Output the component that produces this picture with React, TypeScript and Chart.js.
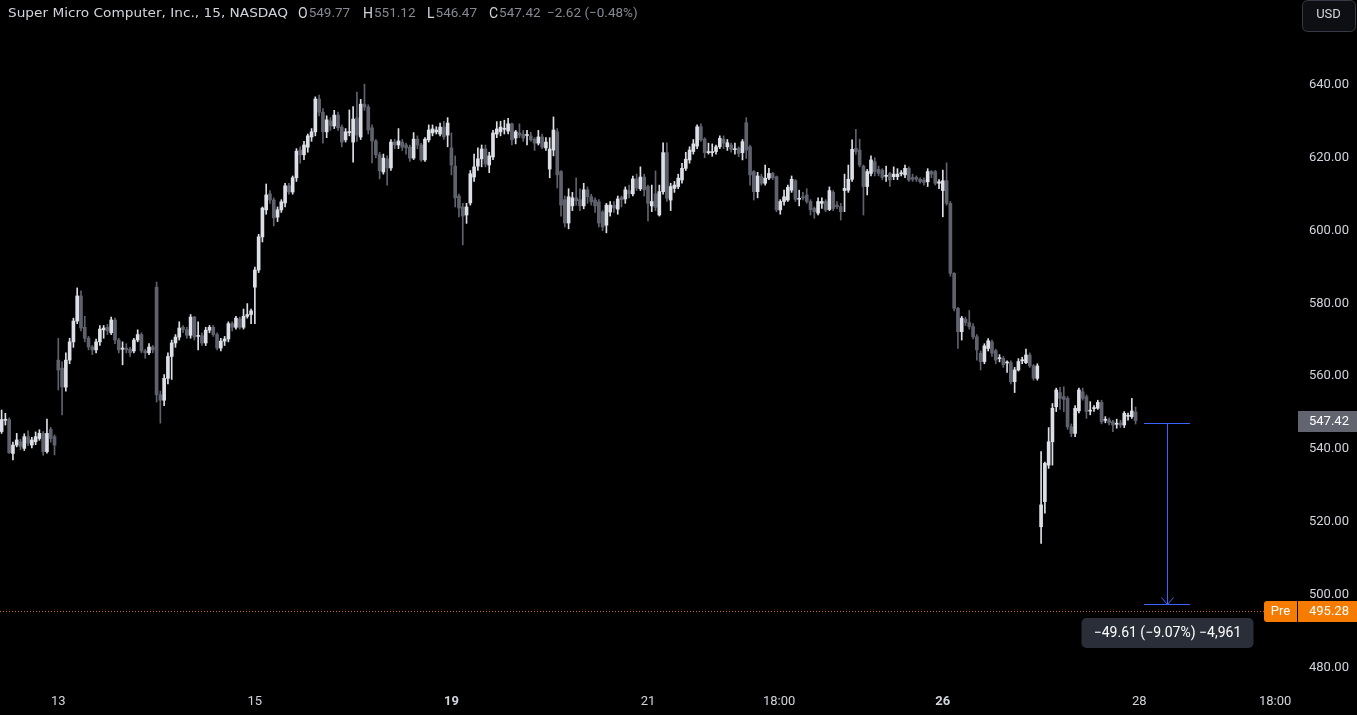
import React, { useEffect, useRef } from "react";
import { Chart, registerables } from "chart.js";
Chart.register(...registerables);

// 15-minute candles, Mar 12 (partial) .. Mar 27
const opens: number[] = [
  544.4, 547.5, 547.7, 538.4, 540.7, 541.6, 539.8, 543.0, 540.7, 541.6, 542.5, 543.9, 538.9, 545.0, 543.0,
  564.0, 561.8, 556.6, 564.0, 569.0, 574.7, 581.6, 573.0, 570.0, 567.6, 566.8, 569.0, 572.3, 573.0, 571.5, 575.0, 569.5, 567.0, 567.3, 567.0, 566.5, 569.5, 571.0, 566.5, 566.0, 567.6,
  584.0, 554.5, 553.0, 559.0, 565.0, 568.7, 570.3, 573.0, 572.3, 570.8, 575.8, 570.5, 570.7, 568.7, 572.2, 573.0, 571.0, 567.3, 569.2, 569.8, 574.0, 573.0, 575.3, 573.0, 576.0, 576.5,
  584.0, 588.7, 597.8, 605.2, 609.6, 607.9, 603.2, 605.2, 607.1, 611.8, 610.1, 614.0, 621.6, 620.3, 622.4, 625.2, 626.6, 635.6, 632.0, 626.6, 629.6, 628.2, 631.2, 627.9, 624.4, 626.4,
  623.8, 630.4, 625.2, 634.2, 633.4, 627.7, 624.1, 620.3, 615.6, 619.2, 616.7, 623.8, 623.0, 623.8, 623.0, 622.4, 619.4, 624.6, 623.0, 618.9, 624.4, 626.3, 626.6, 626.0, 627.9, 625.7,
  622.2, 617.2, 609.0, 606.0, 603.8, 607.1, 614.2, 617.2, 619.2, 621.9, 617.5, 619.7, 626.0, 626.6, 627.3, 626.8, 628.8, 624.9, 626.3, 626.0, 625.6, 625.5, 624.6, 623.5, 625.2, 622.2,
  616.4, 621.6, 626.6, 615.7, 608.0, 601.6, 606.3, 608.5, 608.0, 606.3, 610.7, 608.8, 607.9, 607.4, 604.6, 601.0, 604.6, 606.5, 605.4, 608.6, 608.2, 610.5, 609.6, 613.7, 611.0, 614.2,
  611.6, 606.3, 609.6, 603.8, 610.2, 620.9, 607.9, 611.1, 611.6, 613.4, 616.6, 618.9, 621.2, 622.7, 628.0, 624.6, 620.9, 620.9, 621.2, 622.5, 624.6, 622.5, 623.0, 621.7, 622.1, 620.9,
  629.1, 622.5, 615.7, 610.2, 614.3, 612.5, 613.9, 615.2, 614.3, 605.2, 607.5, 607.9, 610.6, 613.2, 608.1, 608.8, 609.3, 607.5, 605.6, 604.3, 607.0, 607.5, 605.3, 610.0, 606.5, 606.1,
  610.5, 610.6, 613.6, 622.1, 621.6, 617.2, 611.6, 615.2, 618.4, 616.3, 616.1, 614.4, 615.2, 614.3, 614.3, 615.1, 614.8, 616.6, 614.1, 614.1, 613.6, 613.4, 612.9, 615.7, 615.7, 612.5,
  610.5, 613.2, 607.0, 587.8, 578.2, 571.8, 575.2, 574.3, 573.2, 570.4, 565.9, 563.6, 567.2, 569.0, 566.6, 564.4, 564.5, 563.2, 563.3, 558.1, 561.3, 563.8, 563.3, 565.4, 562.4, 559.0,
  518.3, 525.2, 535.2, 541.6, 551.2, 555.1, 554.0, 553.5, 545.7, 543.9, 550.1, 555.3, 554.0, 550.0, 550.7, 550.8, 552.4, 547.5, 547.6, 547.1, 546.4, 546.8, 546.2, 548.6, 548.5, 549.77,
];
const highs: number[] = [
  550.3, 549.4, 548.2, 541.5, 543.9, 542.3, 543.8, 544.6, 542.8, 544.3, 544.9, 544.4, 547.8, 545.6, 543.5,
  570.0, 563.5, 566.0, 570.0, 575.5, 583.8, 583.0, 576.0, 570.5, 568.0, 569.8, 573.5, 573.5, 573.8, 575.8, 575.5, 570.0, 569.0, 568.5, 567.5, 570.0, 572.3, 571.5, 567.0, 568.5, 568.0,
  585.4, 555.5, 560.0, 566.0, 569.5, 571.0, 574.5, 573.5, 573.0, 576.5, 576.0, 574.5, 571.5, 573.0, 573.5, 573.5, 571.5, 570.0, 570.5, 574.5, 574.5, 576.0, 575.8, 578.0, 579.5, 578.0,
  589.5, 598.5, 606.0, 612.3, 610.5, 608.5, 606.0, 608.0, 612.5, 612.5, 614.5, 622.0, 622.5, 624.0, 626.0, 627.5, 636.2, 636.7, 633.0, 631.0, 630.5, 632.5, 632.0, 628.5, 627.5, 632.6,
  633.5, 637.5, 635.5, 639.7, 634.0, 628.5, 624.5, 621.0, 620.5, 620.0, 624.5, 624.5, 627.5, 624.5, 623.5, 623.0, 626.4, 625.5, 623.5, 625.0, 628.5, 628.5, 628.0, 629.0, 629.5, 630.5,
  626.3, 620.0, 609.5, 607.0, 607.0, 616.0, 620.5, 622.2, 623.0, 623.0, 621.0, 627.0, 629.4, 629.5, 629.8, 630.3, 629.0, 627.0, 628.8, 627.0, 627.0, 626.5, 625.0, 627.0, 626.0, 625.0,
  625.0, 630.7, 627.5, 616.0, 609.0, 611.0, 610.0, 614.0, 611.0, 612.5, 611.5, 609.5, 608.5, 608.0, 605.0, 607.0, 607.5, 607.5, 609.0, 609.0, 611.5, 612.0, 614.5, 615.0, 617.0, 615.0,
  612.0, 612.0, 615.9, 612.0, 623.6, 623.6, 612.5, 613.0, 615.0, 618.0, 621.0, 622.5, 624.5, 628.5, 628.8, 625.0, 623.5, 623.3, 623.0, 625.5, 625.5, 624.5, 623.5, 623.5, 622.5, 624.5,
  630.5, 623.0, 616.0, 615.5, 615.0, 617.5, 616.6, 615.5, 614.5, 608.0, 610.6, 612.0, 614.5, 613.5, 610.6, 610.0, 611.0, 608.0, 606.0, 608.5, 608.5, 608.0, 611.5, 610.5, 607.5, 607.0,
  615.0, 617.5, 624.4, 627.3, 624.6, 617.5, 616.3, 620.0, 619.5, 617.2, 616.5, 617.2, 615.5, 617.0, 616.5, 616.0, 617.5, 617.0, 615.0, 614.5, 614.0, 614.0, 616.5, 616.0, 616.0, 613.5,
  616.1, 618.1, 607.5, 588.0, 578.5, 576.0, 575.8, 577.6, 574.0, 571.0, 566.5, 568.5, 569.9, 569.5, 567.0, 565.5, 565.0, 563.8, 563.8, 562.0, 564.4, 564.8, 567.0, 566.0, 562.8, 563.0,
  538.9, 536.0, 545.5, 552.1, 556.3, 556.5, 556.7, 554.0, 546.5, 551.5, 556.3, 556.3, 554.5, 552.6, 551.5, 553.0, 553.0, 548.5, 548.2, 547.5, 547.8, 547.5, 549.9, 549.5, 553.5, 551.12,
];
const lows: number[] = [
  543.9, 546.2, 538.4, 536.6, 540.2, 539.4, 539.2, 540.5, 539.9, 540.8, 542.0, 537.9, 538.5, 541.5, 538.0,
  555.8, 549.0, 555.5, 563.0, 567.5, 574.0, 572.0, 569.0, 566.8, 565.5, 566.0, 568.0, 570.0, 571.0, 571.0, 568.5, 566.0, 562.7, 566.0, 565.0, 566.0, 569.0, 566.0, 564.5, 565.5, 566.0,
  552.5, 546.7, 551.5, 557.5, 558.7, 567.5, 569.5, 571.5, 570.0, 570.0, 569.5, 566.8, 568.0, 568.0, 571.5, 570.5, 566.8, 566.5, 568.0, 569.0, 572.0, 572.5, 572.5, 572.5, 575.5, 574.0,
  574.0, 588.0, 596.4, 604.0, 607.0, 600.8, 602.0, 604.5, 606.0, 609.5, 609.5, 613.0, 618.0, 619.0, 621.0, 624.0, 625.5, 631.0, 623.5, 625.0, 627.0, 627.5, 627.0, 622.5, 623.8, 625.5,
  618.3, 624.0, 624.5, 632.5, 626.0, 618.1, 619.5, 613.7, 615.0, 612.0, 616.0, 622.0, 622.0, 621.5, 620.5, 618.5, 619.0, 622.0, 618.5, 618.5, 623.8, 625.5, 626.0, 625.5, 624.5, 622.5,
  614.8, 606.0, 603.3, 595.6, 601.5, 606.5, 613.0, 616.0, 617.0, 617.0, 615.4, 619.0, 625.0, 625.5, 626.0, 626.0, 623.0, 623.3, 625.0, 624.0, 623.0, 624.0, 621.5, 623.0, 622.0, 621.5,
  614.0, 620.0, 611.2, 603.5, 600.5, 600.0, 605.0, 606.5, 605.0, 605.5, 607.0, 606.5, 604.5, 600.5, 599.5, 598.9, 603.5, 604.5, 604.0, 606.0, 607.0, 608.5, 609.0, 610.5, 610.5, 609.0,
  602.2, 604.7, 605.0, 603.5, 609.5, 607.5, 605.0, 610.0, 611.0, 612.5, 616.0, 618.0, 620.5, 622.0, 624.0, 619.5, 620.5, 619.9, 620.5, 622.0, 622.0, 621.5, 621.0, 620.5, 619.8, 618.9,
  619.3, 612.0, 607.9, 608.5, 612.0, 612.0, 613.5, 613.5, 604.7, 604.0, 606.5, 607.5, 610.0, 607.5, 606.3, 607.9, 607.0, 603.8, 602.9, 603.8, 605.6, 604.7, 605.0, 605.0, 605.5, 602.4,
  604.7, 610.0, 613.0, 620.5, 617.0, 603.8, 609.3, 614.5, 614.5, 614.5, 613.5, 613.0, 611.6, 613.5, 613.5, 614.5, 614.0, 613.0, 613.0, 613.0, 612.5, 612.0, 611.6, 614.0, 612.0, 611.0,
  603.3, 606.5, 587.0, 577.5, 567.2, 569.5, 573.5, 572.5, 569.8, 564.0, 561.3, 563.0, 566.5, 565.0, 563.0, 563.5, 562.0, 560.6, 557.5, 555.1, 561.0, 563.0, 563.0, 562.0, 558.5, 558.5,
  513.7, 522.0, 534.3, 535.2, 549.9, 550.5, 549.9, 545.0, 543.0, 543.0, 549.5, 553.0, 548.0, 549.0, 549.9, 550.5, 546.5, 546.8, 546.2, 544.4, 545.3, 545.5, 545.5, 547.5, 548.0, 546.47,
];
const closes: number[] = [
  547.7, 547.7, 538.6, 540.7, 542.1, 540.3, 543.0, 541.2, 542.1, 543.0, 543.9, 538.9, 543.9, 542.5, 540.7,
  561.3, 556.6, 564.0, 569.0, 574.7, 581.6, 572.8, 570.0, 567.6, 566.8, 569.0, 572.5, 572.8, 572.0, 575.0, 569.5, 566.8, 567.3, 566.8, 566.0, 569.5, 571.0, 566.5, 566.0, 567.6, 566.8,
  554.5, 553.0, 559.0, 565.0, 568.7, 570.3, 572.8, 572.3, 570.8, 575.8, 570.3, 570.7, 568.7, 572.2, 573.0, 571.0, 567.3, 569.2, 569.8, 574.0, 573.0, 575.5, 573.0, 576.0, 576.5, 577.5,
  588.7, 597.8, 605.7, 609.3, 607.9, 603.0, 605.2, 607.4, 611.8, 610.1, 614.0, 621.3, 620.3, 623.0, 625.5, 626.6, 635.6, 632.0, 626.6, 629.9, 628.2, 631.2, 627.7, 623.8, 626.6, 626.6,
  630.1, 625.7, 634.2, 633.4, 627.1, 624.1, 620.3, 615.9, 619.4, 616.7, 623.8, 623.0, 624.1, 622.4, 622.2, 619.4, 624.6, 623.0, 618.9, 624.6, 627.1, 627.4, 627.1, 627.9, 625.2, 629.0,
  617.5, 608.5, 605.7, 603.5, 606.0, 615.1, 617.0, 619.2, 621.9, 617.8, 620.0, 626.3, 627.4, 627.9, 627.5, 628.8, 624.4, 626.6, 625.7, 624.9, 625.7, 624.4, 623.5, 625.2, 622.4, 623.8,
  621.9, 627.1, 614.8, 606.5, 601.6, 608.8, 608.5, 607.7, 606.3, 610.7, 608.8, 607.4, 606.3, 601.6, 600.5, 606.5, 606.5, 605.7, 608.2, 608.0, 610.7, 609.6, 613.7, 611.2, 614.2, 610.7,
  607.0, 607.5, 605.9, 610.2, 620.9, 608.4, 611.6, 612.0, 613.9, 616.6, 619.1, 621.6, 623.3, 628.0, 624.4, 620.9, 621.2, 621.1, 622.5, 624.8, 623.5, 623.6, 621.8, 621.9, 620.7, 623.9,
  621.6, 614.8, 610.2, 614.5, 612.5, 613.9, 615.2, 614.0, 605.2, 607.5, 608.8, 611.4, 613.6, 608.1, 608.3, 608.5, 607.5, 605.2, 604.7, 607.5, 607.5, 605.2, 610.5, 605.6, 606.1, 604.7,
  611.1, 613.6, 621.8, 621.2, 617.5, 611.6, 615.7, 618.9, 615.7, 615.2, 614.1, 614.6, 613.4, 615.0, 615.0, 615.3, 616.6, 613.4, 613.6, 613.6, 612.9, 612.7, 615.7, 615.0, 612.5, 612.9,
  613.2, 607.0, 587.8, 578.2, 571.8, 575.5, 574.3, 573.2, 570.4, 566.8, 563.6, 567.9, 569.3, 565.9, 564.0, 564.6, 562.7, 563.4, 558.1, 561.3, 563.6, 564.1, 565.4, 562.4, 559.0, 562.4,
  524.3, 535.7, 541.6, 550.8, 555.8, 553.5, 553.2, 545.7, 543.9, 550.8, 555.8, 553.5, 549.9, 550.2, 550.9, 552.4, 547.1, 547.7, 546.8, 546.2, 546.6, 546.2, 549.4, 548.8, 550.04, 547.42,
];

// axis ticks (x positions are candle indices)
const xTickPositions: number[] = [15, 67, 119, 171, 205.7, 249, 301, 336.9];
const xTickLabels: string[] = ["13", "15", "19", "21", "18:00", "26", "28", "18:00"];
const boldXTicks: string[] = ["19", "26"];
const yTickValues: number[] = [480, 500, 520, 540, 560, 580, 600, 620, 640];

const titleText = "Super Micro Computer, Inc., 15, NASDAQ";
const currencyLabel = "USD";
const prePrice = 495.28;
const measureTop = 546.72;
const measureBottom = 497.11;
const measureStart = 302.2;
const measureEnd = 314.4;

const X_MIN = -0.423;
const X_MAX = 342.7;
const Y_MIN = 475.17;
const Y_MAX = 662.76;

const UP = "#dcdfe6";
const DOWN = "#5f626d";
const TEXT = "#d1d4dc";
const MUTED = "#868993";
const ORANGE = "#f57c00";
const BLUE = "#3d63ff";
const FONT = "Roboto, 'Open Sans', sans-serif";
const HEAD_FONT = "'DejaVu Sans', Roboto, sans-serif";
const MINUS = "\u2212";

function signed(v: number, digits: number) {
  const s = Math.abs(v).toFixed(digits);
  return (v < 0 ? MINUS : "+") + s;
}

export default function App() {
  const ref = useRef<HTMLCanvasElement | null>(null);

  useEffect(() => {
    document.body.style.margin = "0";
    document.body.style.background = "#000";
    const n = closes.length;
    const colors = closes.map((c, i) => (c >= opens[i] ? UP : DOWN));
    const bodies = closes.map((c, i) => ({ x: i, y: [Math.min(opens[i], c), Math.max(opens[i], c)] }));
    const wicks = closes.map((c, i) => ({
      x: i,
      y: [Math.min(lows[i], opens[i], c), Math.max(highs[i], opens[i], c)],
    }));

    const overlay = {
      id: "overlay",
      beforeDraw(chart: any) {
        const ctx = chart.ctx;
        ctx.save();
        ctx.fillStyle = "#000";
        ctx.fillRect(0, 0, chart.width, chart.height);
        ctx.restore();
      },
      afterDraw(chart: any) {
        const ctx: CanvasRenderingContext2D = chart.ctx;
        const xs = chart.scales.x;
        const ys = chart.scales.y;
        ctx.save();

        // Header
        ctx.textBaseline = "middle";
        ctx.textAlign = "left";
        ctx.font = `13px ${HEAD_FONT}`;
        ctx.fillStyle = TEXT;
        const tw = ctx.measureText(titleText).width;
        ctx.save();
        ctx.translate(8, 14);
        ctx.scale(280 / tw, 1);
        ctx.fillText(titleText, 0, 0);
        ctx.restore();
        const lastO = opens[n - 1], lastH = highs[n - 1], lastL = lows[n - 1], lastC = closes[n - 1];
        const prevC = closes[n - 2];
        const chg = lastC - prevC;
        const pct = (chg / prevC) * 100;
        const parts: [string, string, number][] = [
          ["O", lastO.toFixed(2), 298],
          ["H", lastH.toFixed(2), 363],
          ["L", lastL.toFixed(2), 427],
          ["C", lastC.toFixed(2), 489],
        ];
        for (const [k, v, x] of parts) {
          ctx.fillStyle = TEXT;
          ctx.font = `14px ${FONT}`;
          ctx.fillText(k, x, 14);
          const w = ctx.measureText(k).width;
          ctx.fillStyle = MUTED;
          ctx.font = `13.5px ${FONT}`;
          ctx.fillText(v, x + w + 1, 14);
        }
        ctx.fillStyle = MUTED;
        ctx.fillText(`${signed(chg, 2)} (${signed(pct, 2)}%)`, 547, 14);

        // USD button
        ctx.beginPath();
        (ctx as any).roundRect(1302.5, 0.5, 53, 31, 5);
        ctx.fillStyle = "#0e0f13";
        ctx.fill();
        ctx.strokeStyle = "#363a45";
        ctx.lineWidth = 1;
        ctx.stroke();
        ctx.fillStyle = TEXT;
        ctx.textAlign = "center";
        ctx.font = `13px ${FONT}`;
        ctx.fillText(currencyLabel, 1328.5, 15);

        // Pre-market dotted line
        const yPre = Math.round(ys.getPixelForValue(prePrice)) + 0.5;
        ctx.setLineDash([1, 2]);
        ctx.strokeStyle = "rgba(245,124,0,0.85)";
        ctx.beginPath();
        ctx.moveTo(0, yPre);
        ctx.lineTo(1264, yPre);
        ctx.stroke();
        ctx.setLineDash([]);

        // Pre tag
        ctx.fillStyle = ORANGE;
        ctx.beginPath();
        (ctx as any).roundRect(1264, yPre - 10.5, 33, 21, [3, 0, 0, 3]);
        ctx.fill();
        ctx.fillRect(1298, yPre - 10.5, 59, 21);
        ctx.fillStyle = "#ffffff";
        ctx.font = `13px ${FONT}`;
        ctx.textAlign = "center";
        ctx.fillText("Pre", 1280.5, yPre + 0.5);
        ctx.textAlign = "left";
        ctx.fillText(prePrice.toFixed(2), 1309, yPre + 0.5);

        // Last price tag
        const yLast = Math.round(ys.getPixelForValue(lastC)) + 0.5;
        ctx.fillStyle = "#62656f";
        ctx.fillRect(1298, yLast - 10.5, 59, 21);
        ctx.fillStyle = "#ffffff";
        ctx.fillText(lastC.toFixed(2), 1309, yLast + 0.5);

        // Measure tool
        const x1 = Math.round(xs.getPixelForValue(measureStart));
        const x2 = Math.round(xs.getPixelForValue(measureEnd));
        const xm = Math.round((x1 + x2) / 2);
        const yT = Math.round(ys.getPixelForValue(measureTop));
        const yB = Math.round(ys.getPixelForValue(measureBottom));
        ctx.fillStyle = BLUE;
        ctx.fillRect(x1, yT, x2 - x1, 1);
        ctx.fillRect(x1, yB, x2 - x1, 1);
        ctx.fillRect(xm, yT, 1, yB - yT);
        ctx.strokeStyle = BLUE;
        ctx.lineWidth = 1;
        ctx.beginPath();
        ctx.moveTo(xm + 0.5 - 6, yB + 0.5 - 7);
        ctx.lineTo(xm + 0.5, yB + 0.5);
        ctx.lineTo(xm + 0.5 + 6, yB + 0.5 - 7);
        ctx.stroke();

        const diff = measureBottom - measureTop;
        const dPct = (diff / measureTop) * 100;
        const ticks = Math.round(diff * 100);
        const label = `${signed(diff, 2).replace("+", "")} (${signed(dPct, 2).replace("+", "")}%) ${
          ticks < 0 ? MINUS : ""
        }${Math.abs(ticks).toLocaleString("en-US")}`;
        ctx.font = `14px ${FONT}`;
        const boxW = 172;
        const boxH = 30;
        const boxTop = yB + 14;
        ctx.fillStyle = "#2a2e39";
        ctx.beginPath();
        (ctx as any).roundRect(xm + 0.5 - boxW / 2, boxTop, boxW, boxH, 5);
        ctx.fill();
        ctx.fillStyle = "#ffffff";
        ctx.textAlign = "center";
        ctx.fillText(label, xm + 0.5, boxTop + boxH / 2 + 0.5);

        ctx.restore();
      },
    };

    const chart = new Chart(ref.current as HTMLCanvasElement, {
      type: "bar",
      data: {
        datasets: [
          {
            data: bodies as any,
            backgroundColor: colors,
            barThickness: 3,
            minBarLength: 1,
            grouped: false,
            borderWidth: 0,
          } as any,
          {
            data: wicks as any,
            backgroundColor: colors,
            barThickness: 1,
            grouped: false,
            borderWidth: 0,
          } as any,
        ],
      },
      options: {
        animation: false,
        responsive: false,
        maintainAspectRatio: false,
        layout: { padding: 0 },
        events: [],
        plugins: {
          legend: { display: false },
          tooltip: { enabled: false },
          title: { display: false },
        },
        scales: {
          x: {
            type: "linear",
            min: X_MIN,
            max: X_MAX,
            offset: false,
            grid: { display: false, drawTicks: false },
            border: { display: false },
            afterBuildTicks: (s: any) => {
              s.ticks = xTickPositions.map((v) => ({ value: v }));
            },
            afterFit: (s: any) => {
              s.height = 31;
              s.paddingLeft = 0;
              s.paddingRight = 0;
              s.paddingTop = 0;
              s.paddingBottom = 0;
            },
            ticks: {
              autoSkip: false,
              maxRotation: 0,
              minRotation: 0,
              padding: 10,
              color: TEXT,
              font: (c: any) => ({
                family: FONT,
                size: 13,
                weight: boldXTicks.includes(xTickLabels[c.index]) ? "bold" : "normal",
              }),
              callback: (_v: any, i: number) => xTickLabels[i],
            },
          } as any,
          y: {
            type: "linear",
            position: "right",
            min: Y_MIN,
            max: Y_MAX,
            grid: { display: false, drawTicks: false },
            border: { display: false },
            afterBuildTicks: (s: any) => {
              s.ticks = yTickValues.map((v) => ({ value: v }));
            },
            afterFit: (s: any) => {
              s.width = 60;
              s.paddingTop = 0;
              s.paddingBottom = 0;
              s.paddingLeft = 0;
              s.paddingRight = 0;
            },
            ticks: {
              padding: 12,
              labelOffset: 1.5,
              color: TEXT,
              font: { family: FONT, size: 13 },
              callback: (v: any) => Number(v).toFixed(2),
            },
          } as any,
        },
      },
      plugins: [overlay],
    });
    return () => chart.destroy();
  }, []);

  return (
    <div style={{ position: "absolute", left: 0, top: 0, width: 1357, height: 715, background: "#000" }}>
      <canvas ref={ref} width={1357} height={715} style={{ display: "block" }} />
    </div>
  );
}
